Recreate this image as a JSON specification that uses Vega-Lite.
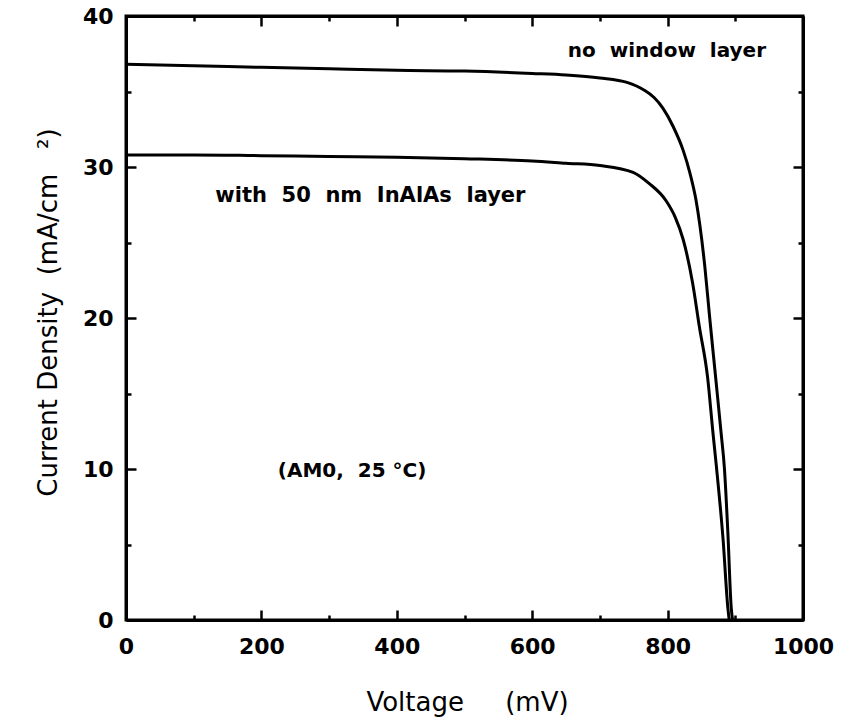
{
  "$schema": "https://vega.github.io/schema/vega-lite/v6.json",
  "width": 677,
  "height": 604,
  "autosize": {"type": "none"},
  "padding": {"left": 126, "top": 16, "right": 38, "bottom": 105},
  "background": "white",
  "config": {
    "view": {"stroke": "black", "strokeWidth": 3},
    "axis": {"domainColor": "black", "domainWidth": 3, "tickColor": "black", "tickWidth": 2.5, "grid": false,
      "labelFont": "DejaVu Sans", "labelFontWeight": "bold", "labelFontSize": 22, "labelColor": "black",
      "titleFont": "DejaVu Sans", "titleFontWeight": "normal", "titleFontSize": 26, "titleColor": "black"}
  },
  "datasets": {
    "curves": [
      {"s": "no window layer", "v": 0, "j": 36.8},
      {"s": "no window layer", "v": 100, "j": 36.7},
      {"s": "no window layer", "v": 200, "j": 36.6},
      {"s": "no window layer", "v": 300, "j": 36.5},
      {"s": "no window layer", "v": 400, "j": 36.4},
      {"s": "no window layer", "v": 500, "j": 36.35},
      {"s": "no window layer", "v": 600, "j": 36.2},
      {"s": "no window layer", "v": 650, "j": 36.1},
      {"s": "no window layer", "v": 700, "j": 35.9},
      {"s": "no window layer", "v": 740, "j": 35.6},
      {"s": "no window layer", "v": 765, "j": 35.1},
      {"s": "no window layer", "v": 780, "j": 34.6},
      {"s": "no window layer", "v": 793, "j": 33.9},
      {"s": "no window layer", "v": 808, "j": 32.7},
      {"s": "no window layer", "v": 823, "j": 31.1},
      {"s": "no window layer", "v": 833, "j": 29.6},
      {"s": "no window layer", "v": 842, "j": 27.8},
      {"s": "no window layer", "v": 855, "j": 23.4},
      {"s": "no window layer", "v": 862, "j": 20.1},
      {"s": "no window layer", "v": 872, "j": 15.6},
      {"s": "no window layer", "v": 879, "j": 12.4},
      {"s": "no window layer", "v": 884, "j": 10.0},
      {"s": "no window layer", "v": 889, "j": 5.8},
      {"s": "no window layer", "v": 894, "j": 0.8},
      {"s": "no window layer", "v": 896, "j": 0},
      {"s": "with 50 nm InAlAs layer", "v": 0, "j": 30.8},
      {"s": "with 50 nm InAlAs layer", "v": 100, "j": 30.8},
      {"s": "with 50 nm InAlAs layer", "v": 200, "j": 30.75},
      {"s": "with 50 nm InAlAs layer", "v": 300, "j": 30.7},
      {"s": "with 50 nm InAlAs layer", "v": 400, "j": 30.65},
      {"s": "with 50 nm InAlAs layer", "v": 500, "j": 30.55},
      {"s": "with 50 nm InAlAs layer", "v": 600, "j": 30.4},
      {"s": "with 50 nm InAlAs layer", "v": 650, "j": 30.25},
      {"s": "with 50 nm InAlAs layer", "v": 700, "j": 30.1},
      {"s": "with 50 nm InAlAs layer", "v": 749, "j": 29.65},
      {"s": "with 50 nm InAlAs layer", "v": 773, "j": 28.9},
      {"s": "with 50 nm InAlAs layer", "v": 798, "j": 27.75},
      {"s": "with 50 nm InAlAs layer", "v": 811, "j": 26.7},
      {"s": "with 50 nm InAlAs layer", "v": 823, "j": 25.2},
      {"s": "with 50 nm InAlAs layer", "v": 837, "j": 22.3},
      {"s": "with 50 nm InAlAs layer", "v": 847, "j": 19.4},
      {"s": "with 50 nm InAlAs layer", "v": 859, "j": 16.1},
      {"s": "with 50 nm InAlAs layer", "v": 867, "j": 12.4},
      {"s": "with 50 nm InAlAs layer", "v": 872, "j": 10.2},
      {"s": "with 50 nm InAlAs layer", "v": 882, "j": 5.3},
      {"s": "with 50 nm InAlAs layer", "v": 889, "j": 0.8},
      {"s": "with 50 nm InAlAs layer", "v": 891, "j": 0}
    ],
    "notes": [
      {"t": "no\u00a0\u00a0window\u00a0\u00a0layer", "v": 799, "j": 37.3, "fs": 20},
      {"t": "with\u00a0\u00a050\u00a0\u00a0nm\u00a0\u00a0InAlAs\u00a0\u00a0layer", "v": 361, "j": 27.7, "fs": 21},
      {"t": "(AM0,\u00a0\u00a025\u00a0°C)", "v": 334, "j": 9.47, "fs": 20}
    ]
  },
  "layer": [
    {
      "data": {"name": "curves"},
      "mark": {"type": "line", "color": "black", "strokeWidth": 3, "interpolate": "monotone"},
      "encoding": {
        "x": {"field": "v", "type": "quantitative", "scale": {"domain": [0, 1000], "nice": false, "zero": false},
          "axis": {"orient": "bottom", "values": [0,100,200,300,400,500,600,700,800,900,1000], "format": "d",
            "labelExpr": "datum.value % 200 === 0 ? datum.label : ''",
            "tickSize": {"condition": {"test": "datum.value % 200 === 0", "value": -10}, "value": -5},
            "labelPadding": 26, "labelFlush": false, "labelOverlap": false,
            "title": "Voltage\u00a0\u00a0\u00a0\u00a0\u00a0(mV)", "titleX": 341, "titleY": 90, "titleBaseline": "alphabetic", "titleAnchor": null, "titleAlign": "center"}},
        "y": {"field": "j", "type": "quantitative", "scale": {"domain": [0, 40], "nice": false},
          "axis": {"orient": "left", "values": [0,5,10,15,20,25,30,35,40],
            "labelExpr": "datum.value % 10 === 0 ? datum.label : ''",
            "tickSize": {"condition": {"test": "datum.value % 10 === 0", "value": -10}, "value": -5},
            "labelPadding": 23, "labelFlush": false, "labelOverlap": false,
            "title": "Current Density\u00a0\u00a0(mA/cm\u00a0\u00a0\u00a0²)", "titleX": -70, "titleY": 296, "titleAngle": 270, "titleBaseline": "alphabetic", "titleAlign": "center", "titleAnchor": null}},
        "detail": {"field": "s"}
      }
    },
    {
      "data": {"name": "curves"},
      "mark": {"type": "line", "opacity": 0},
      "encoding": {
        "x": {"field": "v", "type": "quantitative",
          "axis": {"orient": "top", "values": [0,100,200,300,400,500,600,700,800,900,1000], "labels": false, "title": null,
            "tickSize": {"condition": {"test": "datum.value % 200 === 0", "value": -10}, "value": -5}}},
        "y": {"field": "j", "type": "quantitative",
          "axis": {"orient": "right", "values": [0,5,10,15,20,25,30,35,40], "labels": false, "title": null,
            "tickSize": {"condition": {"test": "datum.value % 10 === 0", "value": -10}, "value": -5}}},
        "detail": {"field": "s"}
      }
    },
    {
      "data": {"name": "notes"},
      "mark": {"type": "text", "font": "DejaVu Sans", "fontWeight": "bold", "color": "black", "align": "center", "baseline": "alphabetic"},
      "encoding": {
        "x": {"field": "v", "type": "quantitative", "axis": null},
        "y": {"field": "j", "type": "quantitative", "axis": null},
        "size": {"field": "fs", "type": "quantitative", "scale": null, "legend": null},
        "text": {"field": "t"}
      }
    }
  ],
  "resolve": {"axis": {"x": "independent", "y": "independent"}}
}
